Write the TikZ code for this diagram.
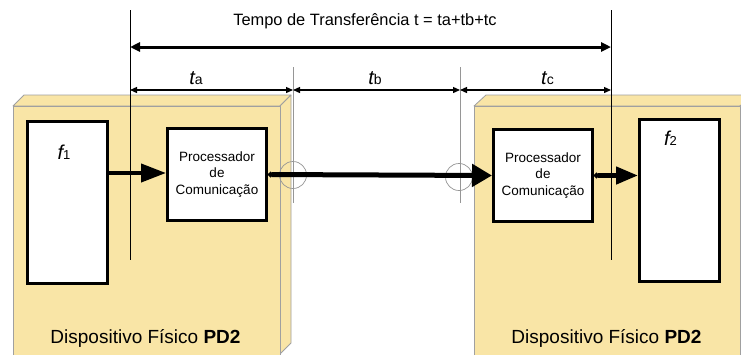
\documentclass[tikz,border=0pt]{standalone}
\usepackage{fontspec}
\setmainfont{Liberation Sans}
\usetikzlibrary{arrows.meta}
\definecolor{devfill}{RGB}{249,229,166}
\definecolor{devedge}{RGB}{160,160,160}
\definecolor{guide}{RGB}{150,150,150}
\tikzset{
  face/.style={fill=devfill, draw=devedge, line width=0.8pt, line join=round},
  fbox/.style={draw=black, fill=white, line width=3pt, inner sep=0pt, minimum width=80pt, minimum height=162pt},
  pbox/.style={draw=black, fill=white, line width=3pt, inner sep=0pt, minimum width=99pt, minimum height=92pt,
               align=center, font=\fontsize{13.5}{16.5}\selectfont},
  vline/.style={draw=black, line width=1pt},
  gline/.style={draw=guide, line width=0.8pt},
  ring/.style={circle, draw=guide, line width=0.7pt, minimum size=27pt, inner sep=0pt},
  dimarrow/.style={draw=black, line width=1.3pt, {Triangle[length=7pt,width=6pt]}-{Triangle[length=7pt,width=6pt]}},
  totarrow/.style={draw=black, line width=3pt, {Triangle[length=10pt,width=9pt]}-{Triangle[length=10pt,width=9pt]}},
  lbl/.style={anchor=base, inner sep=0pt},
}
\newcommand{\tsym}[1]{{\fontsize{20}{20}\selectfont\itshape t}{\fontsize{14}{14}\selectfont #1}}
\newcommand{\fsym}[1]{{\fontsize{20}{20}\selectfont\itshape f}{\fontsize{13}{13}\selectfont #1}}
\begin{document}
\begin{tikzpicture}[x=1pt,y=-1pt]
\useasboundingbox (0,0) rectangle (741,354);
\clip (0,0) rectangle (741,354);
\fill[white] (0,0) rectangle (741,354);
% left device (3D box)
\draw[face] (13,106) -- (24,95) -- (291,95) -- (280,106) -- cycle;
\draw[face] (280,106) -- (291,95) -- (291,343) -- (280,354) -- cycle;
\draw[face] (13,106) rectangle (280,360);
% right device (3D box)
\draw[face] (474,106) -- (486,95) -- (752,95) -- (740,106) -- cycle;
\draw[face] (740,106) -- (752,95) -- (752,343) -- (740,354) -- cycle;
\draw[face] (474,106) rectangle (740,360);
% guide lines
\coordinate (gA1) at (293,67); \coordinate (gA2) at (293,203);
\coordinate (gB1) at (460,67); \coordinate (gB2) at (460,203);
\draw[gline] (gA1) -- (gA2);
\draw[gline] (gB1) -- (gB2);
\coordinate (vL1) at (130,10); \coordinate (vL2) at (130,260);
\coordinate (vR1) at (611,10); \coordinate (vR2) at (611,260);
\draw[vline] (vL1) -- (vL2);
\draw[vline] (vR1) -- (vR2);
% dimension arrows
\coordinate (tL) at (130,47); \coordinate (tR) at (611,47);
\draw[totarrow] (tL) -- (tR);
\coordinate (d0) at (130,90); \coordinate (d1) at (293,90);
\coordinate (d2) at (460,90); \coordinate (d3) at (611,90);
\draw[dimarrow] (d0) -- (d1);
\draw[dimarrow] (d1) -- (d2);
\draw[dimarrow] (d2) -- (d3);
\node[font=\fontsize{16.4}{18}\selectfont, inner sep=0pt] (title) at (365,21) {Tempo de Transferência t = ta+tb+tc};
\node[lbl] (ta) at (196,84) {\tsym{a}};
\node[lbl] (tb) at (375,84) {\tsym{b}};
\node[lbl] (tc) at (547.5,84) {\tsym{c}};
% boxes
\node[fbox] (f1) at (67,202.5) {};
\node[fbox] (f2) at (679.5,200.5) {};
\node[lbl] (f1l) at (64,159) {\fsym{1}};
\node[lbl] (f2l) at (670.5,145) {\fsym{2}};
\node[pbox] (p1) at (217,174.5) {Processador\\de\\Comunicação};
\node[pbox] (p2) at (543,175.5) {Processador\\de\\Comunicação};
% rings
\node[ring] (r1) at (293,175) {};
\node[ring] (r2) at (459,177) {};
% connectors
\draw[line width=4pt, -{Triangle[length=25pt,width=18pt]}] (f1.east |- 0,173) -- (p1.west |- 0,173);
\draw[line width=5pt, {Circle[length=5pt]}-{Triangle[length=20pt,width=22pt]}] (p1.east) -- (p2.west);
\draw[line width=4.5pt, {Circle[length=5pt]}-{Triangle[length=22pt,width=17pt]}] (p2.east) -- (f2.west |- p2.east);
% bottom labels
\node[lbl, font=\fontsize{19}{20}\selectfont] (d1l) at (145.5,343) {Dispositivo Físico \textbf{PD2}};
\node[lbl, font=\fontsize{19}{20}\selectfont] (d2l) at (606.5,343) {Dispositivo Físico \textbf{PD2}};
\end{tikzpicture}
\end{document}
